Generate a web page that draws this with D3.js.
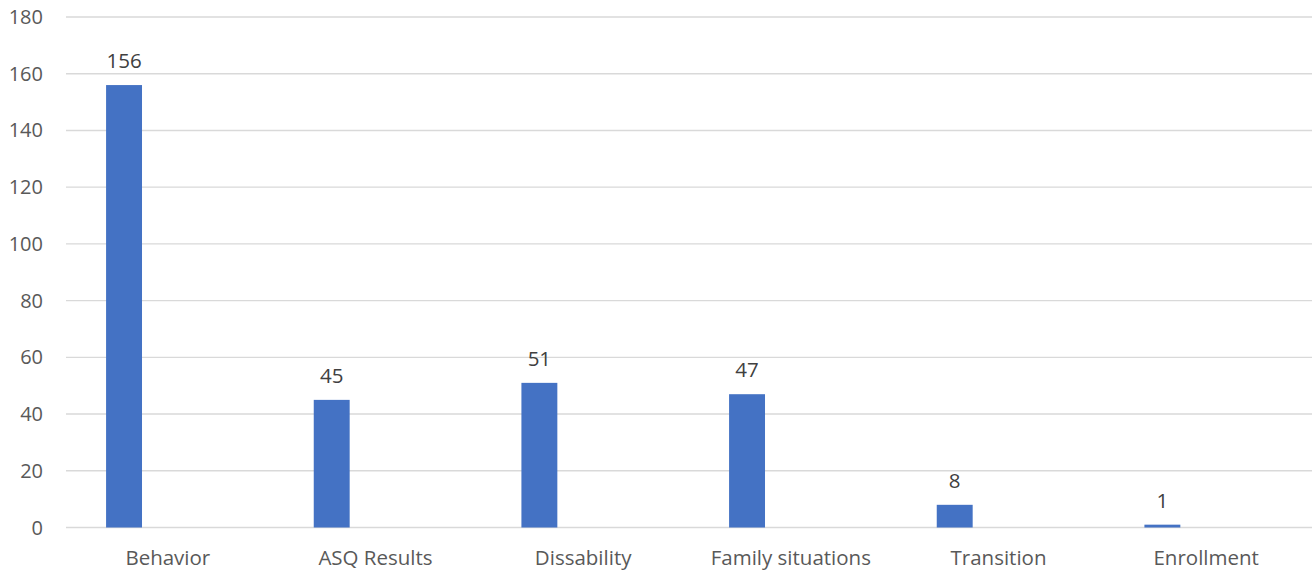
<!DOCTYPE html>
<html><head><meta charset="utf-8">
<script src="https://cdn.jsdelivr.net/npm/d3@7"></script>
<style>html,body{margin:0;padding:0;background:#fff;}svg{display:block;}</style>
</head><body>
<svg id="chart" width="1315" height="575"></svg>
<script>
const categories = ["Behavior", "ASQ Results", "Dissability", "Family situations", "Transition", "Enrollment"];
const values = [156, 45, 51, 47, 8, 1];
const yTicks = [0, 20, 40, 60, 80, 100, 120, 140, 160, 180];

const W = 1315, H = 575;
const m = {left: 66, right: 3, top: 17, bottom: 47.5};
const svg = d3.select("#chart");
const font = "'Open Sans', 'Noto Sans', sans-serif";

const x = d3.scaleBand().domain(categories).range([m.left, W - m.right]).paddingInner(0).paddingOuter(0);
const y = d3.scaleLinear().domain([0, 180]).range([H - m.bottom, m.top]);

// gridlines
svg.append("g").selectAll("line").data(yTicks).join("line")
  .attr("x1", m.left).attr("x2", W - m.right)
  .attr("y1", d => y(d)).attr("y2", d => y(d))
  .attr("stroke", "#d9d9d9").attr("stroke-width", 1.4);

// y tick labels
svg.append("g").selectAll("text").data(yTicks).join("text")
  .attr("x", 43).attr("y", d => y(d)).attr("dy", "0.35em")
  .attr("text-anchor", "end").attr("fill", "#595959")
  .style("font-family", font).style("font-size", "20px")
  .text(d => d);

// bars
const bw = x.bandwidth();
const barOff = bw * 0.193, barW = bw * 0.173;
svg.append("g").selectAll("rect").data(values).join("rect")
  .attr("x", (d, i) => x(categories[i]) + barOff)
  .attr("width", barW)
  .attr("y", d => y(d))
  .attr("height", d => y(0) - y(d))
  .attr("fill", "#4472C4");

// data labels
svg.append("g").selectAll("text").data(values).join("text")
  .attr("x", (d, i) => x(categories[i]) + barOff + barW / 2)
  .attr("y", d => y(d) - 17)
  .attr("text-anchor", "middle").attr("fill", "#404040")
  .style("font-family", font).style("font-size", "20.5px")
  .text(d => d);

// category labels
svg.append("g").selectAll("text").data(categories).join("text")
  .attr("x", d => x(d) + bw / 2 - 2)
  .attr("y", 565)
  .attr("text-anchor", "middle").attr("fill", "#595959")
  .style("font-family", font).style("font-size", "20.5px")
  .text(d => d);
</script>
</body></html>
